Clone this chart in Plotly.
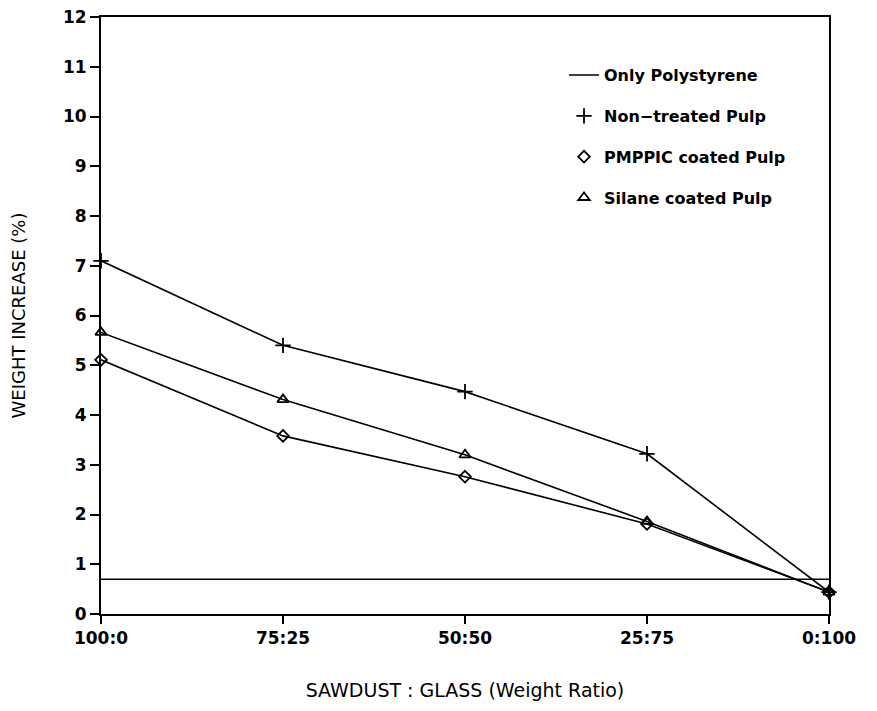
import plotly.graph_objects as go

categories = ["100:0", "75:25", "50:50", "25:75", "0:100"]
x_pos = [0, 1, 2, 3, 4]
only_polystyrene = [0.70, 0.70, 0.70, 0.70, 0.70]
non_treated = [7.10, 5.40, 4.47, 3.22, 0.44]
pmppic = [5.11, 3.58, 2.76, 1.81, 0.44]
silane = [5.66, 4.31, 3.20, 1.86, 0.44]

FONT = "DejaVu Sans"

series = [
    ("Only Polystyrene", only_polystyrene, None, 0),
    ("Non\u2212treated Pulp", non_treated, "cross-thin-open", 11),
    ("PMPPIC coated Pulp", pmppic, "diamond-open", 9),
    ("Silane coated Pulp", silane, "triangle-up-open", 10),
]

fig = go.Figure()
for i, (name, vals, sym, sz) in enumerate(series):
    if sym is None:
        fig.add_trace(go.Scatter(x=x_pos, y=vals, mode="lines", showlegend=False,
                                 line=dict(color="black", width=1.5)))
        fig.add_trace(go.Scatter(x=[None], y=[None], mode="lines", name=name,
                                 line=dict(color="black", width=1.5), legendgroup=str(i)))
    else:
        mk = dict(symbol=sym, size=sz, color="black", line=dict(color="black", width=1.8))
        fig.add_trace(go.Scatter(x=x_pos, y=vals, mode="lines+markers", showlegend=False,
                                 line=dict(color="black", width=1.6), marker=mk,
                                 cliponaxis=False))
        fig.add_trace(go.Scatter(x=[None], y=[None], mode="markers", name=name,
                                 marker=mk, legendgroup=str(i)))

fig.update_layout(
    width=877, height=711,
    margin=dict(l=93, r=56, t=9, b=105),
    paper_bgcolor="white", plot_bgcolor="white",
    font=dict(family=FONT, color="black", size=16),
    showlegend=True,
    legend=dict(x=0.636, y=0.931, xanchor="left", yanchor="top",
                font=dict(family=FONT, size=16, color="black", weight="bold"),
                tracegroupgap=17, bgcolor="rgba(0,0,0,0)", itemwidth=30),
    xaxis=dict(range=[0, 4], tickvals=x_pos, ticktext=categories, automargin=False,
               showline=True, linecolor="black", linewidth=2, mirror=True,
               ticks="outside", ticklen=8, tickwidth=2, tickcolor="black",
               showgrid=False, zeroline=False, ticklabeloverflow="allow",
               tickfont=dict(family=FONT, size=17, weight="bold"),
               title=dict(text="SAWDUST : GLASS (Weight Ratio)", standoff=36,
                          font=dict(family=FONT, size=19))),
    yaxis=dict(range=[0, 12], dtick=1, tick0=0, automargin=False,
               showline=True, linecolor="black", linewidth=2, mirror=True,
               ticks="outside", ticklen=9, tickwidth=1.5, tickcolor="black",
               showgrid=False, zeroline=False, ticklabeloverflow="allow",
               tickfont=dict(family=FONT, size=17, weight="bold"),
               title=dict(text="WEIGHT INCREASE (%)", standoff=35,
                          font=dict(family=FONT, size=18))),
)

fig.write_html("out.html")
